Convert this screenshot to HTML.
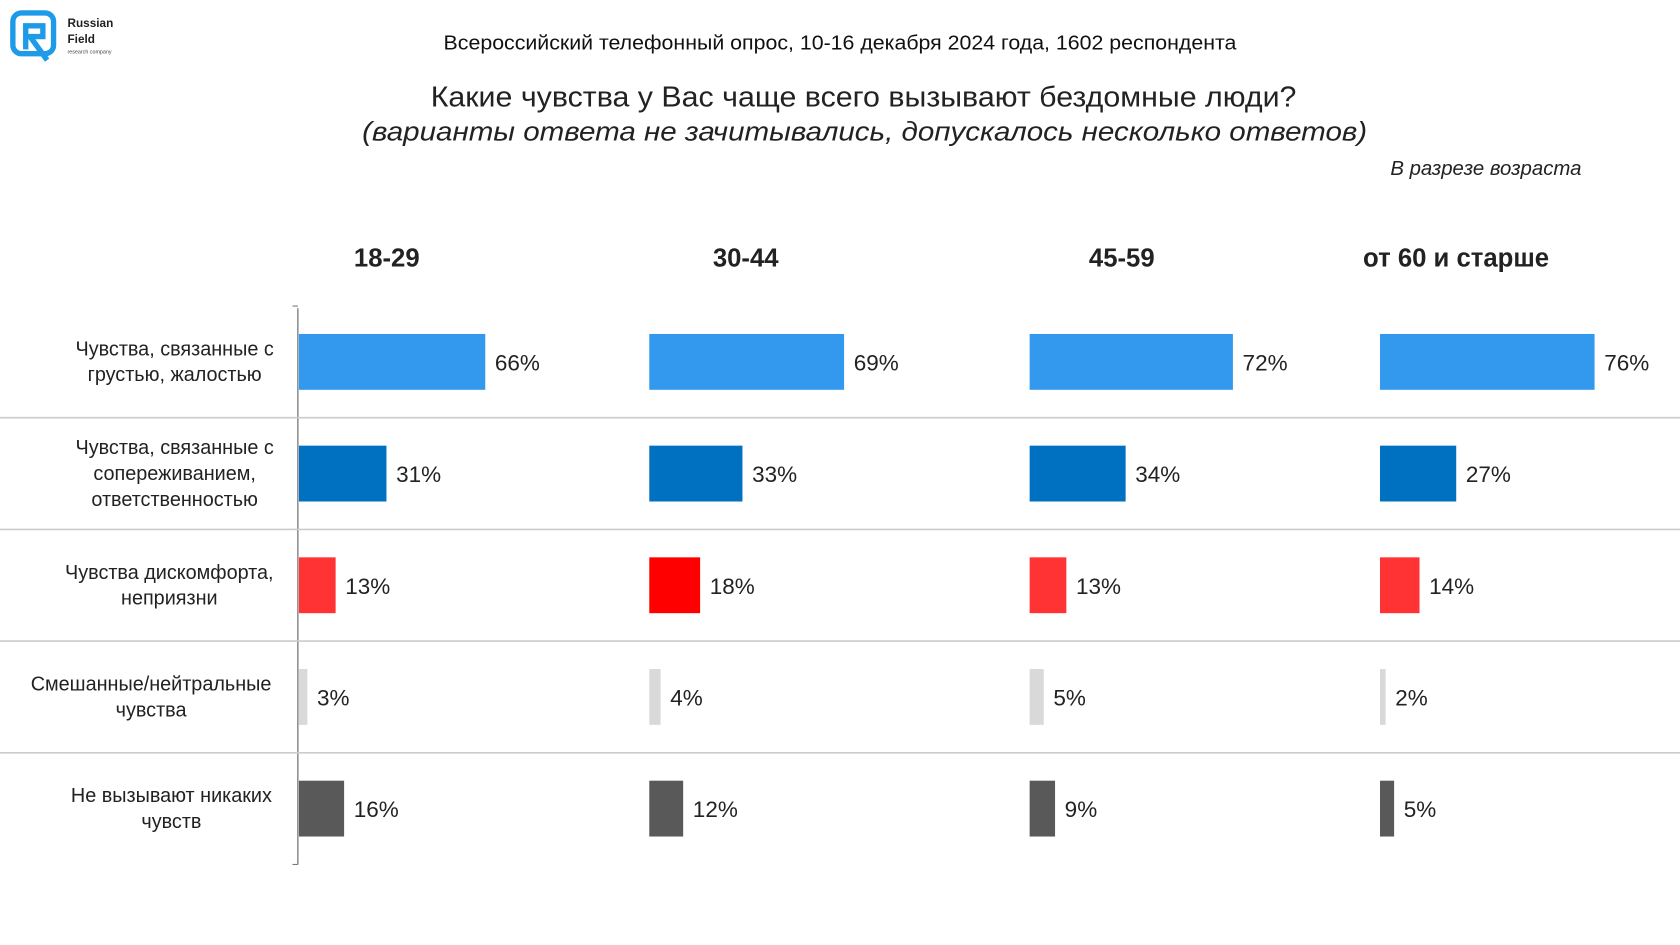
<!DOCTYPE html>
<html><head><meta charset="utf-8"><style>
html,body{margin:0;padding:0;background:#fff;}
svg{display:block;font-family:"Liberation Sans","DejaVu Sans",sans-serif;}
</style></head><body>
<svg id="chart" width="1680" height="945" viewBox="0 0 1568 880" preserveAspectRatio="none" xmlns="http://www.w3.org/2000/svg">
<g>
<rect x="12" y="12" width="38" height="38" rx="8" fill="none" stroke="#1e9be8" stroke-width="5"/>
<path d="M24 46 V24 H40 V34 H28 L44 56" fill="none" stroke="#1e9be8" stroke-width="5"/>
<text x="63" y="25" font-size="11" font-weight="bold" fill="#222">Russian</text>
<text x="63" y="40" font-size="11" font-weight="bold" fill="#222">Field</text>
<text x="63" y="50" font-size="5" fill="#444">research company</text>
</g>
<text x="784" y="46" font-size="19" text-anchor="middle" textLength="740" lengthAdjust="spacingAndGlyphs" fill="#111">Всероссийский телефонный опрос, 10-16 декабря 2024 года, 1602 респондента</text>
<text x="806" y="99" font-size="27" text-anchor="middle" textLength="808" lengthAdjust="spacingAndGlyphs" fill="#222">Какие чувства у Вас чаще всего вызывают бездомные люди?</text>
<text x="807" y="131" font-size="25" font-style="italic" text-anchor="middle" textLength="938" lengthAdjust="spacingAndGlyphs" fill="#222">(варианты ответа не зачитывались, допускалось несколько ответов)</text>
<text x="1476" y="163" font-size="19" font-style="italic" text-anchor="end" fill="#222">В разрезе возраста</text>
<g id="plot"></g>
</svg>
<script>
const groups = ["18-29","30-44","45-59","от 60 и старше"];
const categories = [["Чувства, связанные с","грустью, жалостью"],["Чувства, связанные с","сопереживанием,","ответственностью"],["Чувства дискомфорта,","неприязни"],["Смешанные/нейтральные","чувства"],["Не вызывают никаких","чувств"]];
const v1829 = [66,31,13,3,16];
const v3044 = [69,33,18,4,12];
const v4559 = [72,34,13,5,9];
const v60 = [76,27,14,2,5];
const series = [v1829,v3044,v4559,v60];
const colors = ["#3399ee","#0070c0","#ff3333","#d9d9d9","#595959"];
const NS="http://www.w3.org/2000/svg";
const g=document.getElementById('plot');
function mk(t,a){const e=document.createElementNS(NS,t);for(const k in a)e.setAttribute(k,a[k]);g.appendChild(e);return e;}
const colX=[279,606,961,1288], headX=[361,696,1047,1359];
const rowTop=285, rowH=104, barH=52, scale=2.635;
function xs(v){return v*scale;}
function yc(i){return rowTop+rowH*i+rowH/2;}
let ax=mk('line',{x1:278,y1:287,x2:278,y2:805,stroke:'#777','stroke-width':1.2});


for(let i=0;i<=categories.length;i++){
  const y=rowTop+rowH*i;
  const t=mk('line',{x1:273,y1:y,x2:278,y2:y,stroke:'#777'});
  
  
  if(i>0&&i<categories.length){
    const s=mk('line',{x1:0,y1:y,x2:1568,y2:y,stroke:'#ccc','stroke-width':1.5});
    
    
  }
}
groups.forEach((gname,j)=>{
  const h=mk('text',{x:headX[j],y:248,'font-size':24,'font-weight':'bold','text-anchor':'middle',fill:'#222'});
  h.textContent=gname;
  
  
});
const labelCx=[163,163,158,141,160];
categories.forEach((lines,i)=>{
  const n=lines.length, lh=24, y0=yc(i)-(n-1)*lh/2+6;
  lines.forEach((ln,k)=>{
    const t=mk('text',{x:labelCx[i],y:y0+k*lh,'font-size':18.5,'text-anchor':'middle',fill:'#222'});
    t.textContent=ln;
    
    
  });
  series.forEach((vals,j)=>{
    const v=vals[i];
    let c=colors[i]; if(i===2&&j===1)c='#ff0000';
    const r=mk('rect',{x:colX[j],y:yc(i)-barH/2,width:xs(v),height:barH,fill:c});
    
    
    const t=mk('text',{x:colX[j]+xs(v)+9,y:yc(i)+8,'font-size':21,fill:'#222'});
    t.textContent=v+'%';
    
    
  });
});
</script>
</body></html>
